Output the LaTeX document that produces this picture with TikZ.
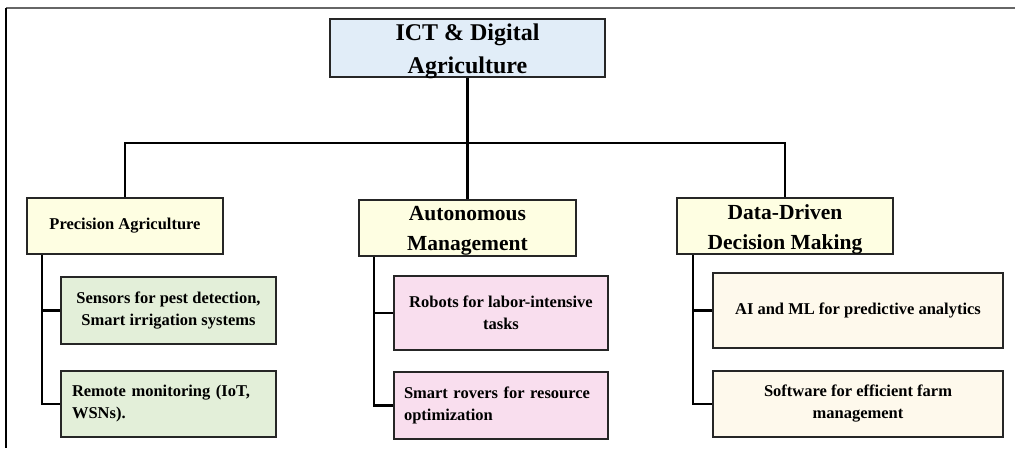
\documentclass[tikz,border=0pt]{standalone}
\usepackage{fontspec}
\setmainfont{Liberation Serif}
\usetikzlibrary{calc}
\definecolor{rootblue}{HTML}{E1EDF8}
\definecolor{headyellow}{HTML}{FEFEE2}
\definecolor{leafgreen}{HTML}{E3EFD9}
\definecolor{leafpink}{HTML}{F9DEEE}
\definecolor{leafbeige}{HTML}{FEF9EC}
\definecolor{framegray}{HTML}{666666}
\newcommand{\topstrut}[1]{\rule{0pt}{#1}}
\newcommand{\nodepth}[1]{\raisebox{0pt}[\height][0pt]{#1}}
\begin{document}
\begin{tikzpicture}
    [x=1pt,y=-1pt,
    box/.style = {draw=black!85, line width=2.4pt, inner sep=0pt, font=\bfseries},
    rootbox/.style = {box, fill=rootblue, align=center,
                minimum width=275pt, minimum height=58pt,
                font=\bfseries\fontsize{24}{33}\selectfont},
    headbox/.style = {box, fill=headyellow, align=center,
                minimum width=216pt, minimum height=56pt,
                font=\bfseries\fontsize{21.5}{30}\selectfont},
    leaf/.style = {box, font=\bfseries\fontsize{16.5}{22}\selectfont},
    link/.style = {line width=2.4pt, draw=black}]
    \useasboundingbox (0,0) rectangle (1015,448);
    % outer frame
    \draw[framegray, line width=2pt] (6,8) -- (1015,8);
    \draw[black, line width=1.2pt] (6,8) -- (6,448);
    % top level
    \node[rootbox] (root) at (467.5,48) {\topstrut{18pt}ICT \& Digital\\\nodepth{Agriculture}};
    \coordinate (bus) at (467.5,143);
    % second level
    \node[headbox, minimum width=196pt, font=\bfseries\fontsize{16.5}{22}\selectfont] (pa) at (125,226) {Precision Agriculture};
    \node[headbox, minimum width=217pt] (am) at (467.5,228) {\topstrut{14pt}Autonomous\\\nodepth{Management}};
    \node[headbox] (dd) at (785,226) {\topstrut{17pt}Data-Driven\\\nodepth{Decision Making}};
    % leaves
    \node[leaf, fill=leafgreen, align=center, minimum width=215pt, minimum height=67pt] (pa1) at (168.5,310.5) {Sensors for pest detection,\\Smart irrigation systems};
    \node[leaf, fill=leafgreen, align=left, text width=193pt, minimum width=215pt, minimum height=66pt] (pa2) at (168.5,404) {Remote monitoring (IoT,\\WSNs).};
    \node[leaf, fill=leafpink, align=center, minimum width=214pt, minimum height=74pt] (am1) at (501,313) {Robots for labor-intensive\\tasks};
    \node[leaf, fill=leafpink, align=left, text width=194pt, minimum width=214pt, minimum height=67pt] (am2) at (501,405.5) {Smart rovers for resource\\optimization};
    \node[leaf, fill=leafbeige, align=center, minimum width=290pt, minimum height=75pt] (dd1) at (858,310.5) {AI and ML for predictive analytics};
    \node[leaf, fill=leafbeige, align=center, minimum width=290pt, minimum height=66pt] (dd2) at (858,404) {Software for efficient farm\\management};
    % connectors
    \draw[link] (root.south) -- (am.north);
    \draw[link] (pa.north) |- (bus) -| (dd.north);
    \coordinate (pastem) at ($(pa.south west)+(16,0)$);
    \coordinate (amstem) at ($(am.south west)+(16,0)$);
    \coordinate (ddstem) at ($(dd.south west)+(17,0)$);
    \draw[link] (pastem) |- (pa1.west);
    \draw[link] (pastem) |- (pa2.west);
    \draw[link] (amstem) |- (am1.west);
    \draw[link] (amstem) |- (am2.west);
    \draw[link] (ddstem) |- (dd1.west);
    \draw[link] (ddstem) |- (dd2.west);
\end{tikzpicture}
\end{document}
